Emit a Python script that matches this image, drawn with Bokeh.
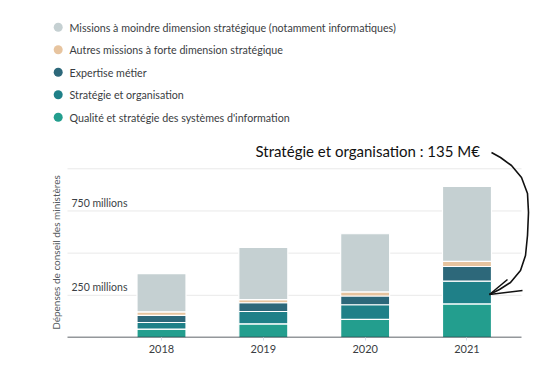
import math
from bokeh.plotting import figure
from bokeh.models import Range1d, FixedTicker
from bokeh.core.properties import value
from bokeh.embed import file_html
from bokeh.resources import INLINE

# ---- data (millions of euros) ----
years = [2018, 2019, 2020, 2021]
qualite = [50, 81, 107, 199]
strategie = [39, 73, 87, 135]
expertise = [42, 52, 52, 87]
autres = [21, 18, 24, 30]
missions = [227, 310, 345, 444]

series_names = ["qualite", "strategie", "expertise", "autres", "missions"]
series_labels = [
    "Qualité et stratégie des systèmes d'information",
    "Stratégie et organisation",
    "Expertise métier",
    "Autres missions à forte dimension stratégique",
    "Missions à moindre dimension stratégique (notamment informatiques)",
]
colors = ["#239e8e", "#1f8088", "#2d687a", "#e7c49f", "#c5d0d2"]

grid_values = [250, 500, 750, 1000]
grid_labels = {250: "250 millions", 750: "750 millions"}
y_title = "Dépenses de conseil des ministères"
annotation = "Stratégie et organisation : 135 M€"

# ---- layout geometry (page pixels) ----
OFF = 0            # page offset of the canvas
W, H = 554, 370
FRAME_BOTTOM = 337
PX_PER_M = 0.1687
PX_PER_YEAR = 101.83
X0 = 2018 - (161 - OFF) / PX_PER_YEAR
X1 = X0 + W / PX_PER_YEAR
Y_END = (FRAME_BOTTOM - OFF) / PX_PER_M


def X(px):
    return X0 + (px - OFF) / PX_PER_YEAR


def Y(py):
    return (FRAME_BOTTOM - py) / PX_PER_M


p = figure(width=W, height=H, output_backend="svg", toolbar_location=None,
           x_range=Range1d(X0, X1), y_range=Range1d(0, Y_END),
           y_axis_location=None, min_border_left=0, min_border_right=0,
           min_border_top=0, min_border_bottom=H - (FRAME_BOTTOM - OFF))
p.outline_line_color = None
p.xgrid.visible = False
p.ygrid.visible = False
p.background_fill_color = "white"
p.border_fill_color = "white"

grid_left, grid_right = X(67), X(521)

# gridlines
p.segment(x0=[grid_left] * len(grid_values), x1=[grid_right] * len(grid_values),
          y0=grid_values, y1=grid_values, line_color="#e9e9e9", line_width=1)

# bars
data = dict(years=years, qualite=qualite, strategie=strategie,
            expertise=expertise, autres=autres, missions=missions)
bar_w = 49 / PX_PER_YEAR
p.vbar_stack(series_names, x="years", width=bar_w, color=colors,
             line_color="white", line_width=1.2, source=data)

# baseline
p.segment(x0=[grid_left], x1=[grid_right], y0=[0], y1=[0],
          line_color="#2b3038", line_width=1.5)

# y grid labels
gl_vals = [v for v in grid_values if v in grid_labels]
p.text(x=[X(71)] * len(gl_vals), y=[v + 2.2 / PX_PER_M for v in gl_vals],
       text=[grid_labels[v] for v in gl_vals], text_font=value("Lato"),
       text_font_size="10.5px", text_color="#3b3f45",
       text_baseline="bottom", text_align="left")

# y axis title
p.text(x=[X(55)], y=[Y(252)], text=[y_title], angle=math.pi / 2,
       text_font=value("Lato"), text_font_size="10px", text_color="#555a60",
       text_align="center", text_baseline="middle")

# legend (top, stacked, reversed order)
leg_y = [26.7, 49.3, 71.7, 94.3, 116.7]
leg_labels = list(reversed(series_labels))
leg_colors = list(reversed(colors))
p.scatter(x=[X(57.7)] * 5, y=[Y(v) for v in leg_y], size=9,
          color=leg_colors, line_color=None)
p.text(x=[X(69)] * 5, y=[Y(v) for v in leg_y], text=leg_labels,
       text_font=value("Lato"), text_font_size="10.7px", text_color="#3a3d42",
       text_baseline="middle", text_align="left")

# annotation
p.text(x=[X(255)], y=[Y(150)], text=[annotation], text_font=value("Lato"),
       text_font_size="15px", text_color="#111111",
       text_baseline="middle", text_align="left")

arrow_px = [(491, 152), (500, 157), (511, 165), (521, 177), (527, 193),
            (528, 212), (527, 235), (525, 255), (520, 270), (510, 282),
            (499, 289), (489, 294)]
p.line(x=[X(a) for a, b in arrow_px], y=[Y(b) for a, b in arrow_px],
       line_color="#111111", line_width=1.6)
head = [[(489, 294), (507, 279)], [(489, 294), (522, 290)]]
p.multi_line(xs=[[X(a) for a, b in h] for h in head],
             ys=[[Y(b) for a, b in h] for h in head],
             line_color="#111111", line_width=1.6)

# x axis
p.xaxis.ticker = FixedTicker(ticks=years)
p.xaxis.axis_line_color = None
p.xaxis.major_tick_out = 3
p.xaxis.major_tick_in = 0
p.xaxis.major_tick_line_color = "#d5dbe6"
p.xaxis.minor_tick_line_color = None
p.xaxis.major_label_text_font = "Lato"
p.xaxis.major_label_text_font_size = "11px"
p.xaxis.major_label_text_color = "#3a3d42"
p.xaxis.major_label_standoff = 4

open("out.html", "w").write(file_html(p, INLINE))
